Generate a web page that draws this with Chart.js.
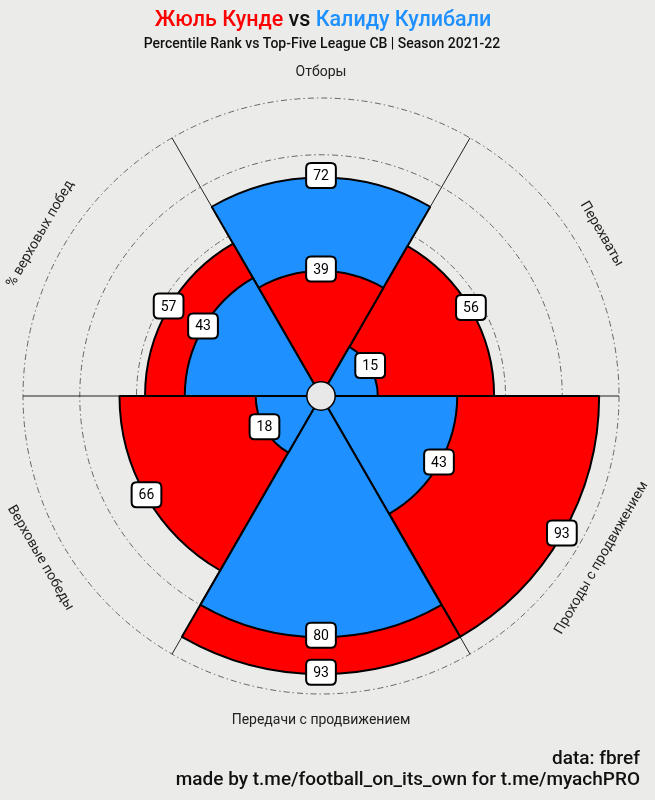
<!DOCTYPE html>
<html>
<head>
<meta charset="utf-8">
<script src="https://cdn.jsdelivr.net/npm/chart.js@4.4.1/dist/chart.umd.min.js"></script>
<style>
  html, body { margin: 0; padding: 0; background: #ebebe9; }
  #wrap { width: 655px; height: 800px; position: relative; }
</style>
</head>
<body>
<div id="wrap"><canvas id="pizza"></canvas></div>
<script>
// slices, clockwise from the top
const categories = [
  "Отборы",
  "Перехваты",
  "Проходы с продвижением",
  "Передачи с продвижением",
  "Верховые победы",
  "% верховых побед",
];
const kundeValues = [39, 56, 93, 93, 66, 57];
const koulibalyValues = [72, 15, 43, 80, 18, 43];
const radialTicks = [0, 20, 40, 60, 80, 100];

const RED = "#ff0000";
const BLUE = "#1e90ff";
const BG = "#ebebe9";

// in every slice the bigger value sits behind, the smaller one in front
const backValues = kundeValues.map((v, i) => Math.max(v, koulibalyValues[i]));
const frontValues = kundeValues.map((v, i) => Math.min(v, koulibalyValues[i]));
const backColors = kundeValues.map((v, i) => (v >= koulibalyValues[i] ? RED : BLUE));
const frontColors = kundeValues.map((v, i) => (v >= koulibalyValues[i] ? BLUE : RED));

const roundBox = (ctx, x, y, w, h, rad) => {
  ctx.beginPath();
  ctx.moveTo(x + rad, y);
  ctx.lineTo(x + w - rad, y);
  ctx.quadraticCurveTo(x + w, y, x + w, y + rad);
  ctx.lineTo(x + w, y + h - rad);
  ctx.quadraticCurveTo(x + w, y + h, x + w - rad, y + h);
  ctx.lineTo(x + rad, y + h);
  ctx.quadraticCurveTo(x, y + h, x, y + h - rad);
  ctx.lineTo(x, y + rad);
  ctx.quadraticCurveTo(x, y, x + rad, y);
  ctx.closePath();
};

const pizzaDecor = {
  id: "pizzaDecor",
  beforeDraw(chart) {
    const ctx = chart.ctx;
    ctx.save();
    ctx.fillStyle = BG;
    ctx.fillRect(0, 0, chart.width, chart.height);
    ctx.restore();
  },
  afterDatasetsDraw(chart) {
    const ctx = chart.ctx;
    const r = chart.scales.r;
    const arcs = chart.getDatasetMeta(0).data;

    ctx.save();
    // centre disc
    ctx.beginPath();
    ctx.arc(r.xCenter, r.yCenter, r.getDistanceFromCenterForValue(0), 0, 2 * Math.PI);
    ctx.fillStyle = "#e8e8e8";
    ctx.fill();
    ctx.lineWidth = 1.5;
    ctx.strokeStyle = "#000";
    ctx.stroke();

    // category names, turned along the circle
    ctx.font = "14px Roboto";
    ctx.fillStyle = "#222";
    ctx.textAlign = "center";
    ctx.textBaseline = "middle";
    arcs.forEach((arc, i) => {
      const mid = (arc.startAngle + arc.endAngle) / 2;
      const dist = r.drawingArea + 26;
      let rot = mid + Math.PI / 2;
      while (rot > Math.PI / 2 + 1e-6) rot -= Math.PI;
      while (rot <= -Math.PI / 2 + 1e-6) rot += Math.PI;
      ctx.save();
      ctx.translate(r.xCenter + Math.cos(mid) * dist, r.yCenter + Math.sin(mid) * dist);
      ctx.rotate(rot);
      ctx.fillText(categories[i], 0, 0);
      ctx.restore();
    });

    // value boxes
    ctx.font = "14px Roboto";
    [kundeValues, koulibalyValues].forEach((vals) => {
      vals.forEach((v, i) => {
        const arc = arcs[i];
        const mid = (arc.startAngle + arc.endAngle) / 2;
        const d = r.getDistanceFromCenterForValue(v);
        const x = r.xCenter + Math.cos(mid) * d;
        const y = r.yCenter + Math.sin(mid) * d - 2;
        const txt = String(v);
        const w = ctx.measureText(txt).width + 14;
        const h = 25;
        roundBox(ctx, x - w / 2, y - h / 2, w, h, 5);
        ctx.fillStyle = "#fff";
        ctx.fill();
        ctx.lineWidth = 2;
        ctx.strokeStyle = "#000";
        ctx.stroke();
        ctx.fillStyle = "#000";
        ctx.fillText(txt, x, y + 1);
      });
    });
    ctx.restore();
  },
  afterDraw(chart) {
    const ctx = chart.ctx;
    ctx.save();
    ctx.textBaseline = "alphabetic";

    // title in the players' colours
    ctx.font = "500 21.5px Roboto";
    const parts = [["Жюль Кунде", RED], [" vs ", "#111"], ["Калиду Кулибали", BLUE]];
    const total = parts.reduce((s, p) => s + ctx.measureText(p[0]).width, 0);
    let x = 323 - total / 2;
    ctx.textAlign = "left";
    parts.forEach(([t, c]) => {
      ctx.fillStyle = c;
      ctx.fillText(t, x, 26);
      x += ctx.measureText(t).width;
    });

    ctx.textAlign = "center";
    ctx.fillStyle = "#111";
    ctx.font = "500 14px Roboto";
    ctx.fillText("Percentile Rank vs Top-Five League CB | Season 2021-22", 322, 48);

    ctx.textAlign = "right";
    ctx.font = "500 19px Roboto";
    ctx.fillText("data: fbref", 640, 764);
    ctx.fillText("made by t.me/football_on_its_own for t.me/myachPRO", 640, 785);
    ctx.restore();
  },
};

new Chart(document.getElementById("pizza"), {
  type: "polarArea",
  data: {
    labels: categories,
    datasets: [
      {
        label: "front",
        data: frontValues,
        backgroundColor: frontColors,
        borderColor: "#000",
        borderWidth: 2,
      },
      {
        label: "back",
        data: backValues,
        backgroundColor: backColors,
        borderColor: "#000",
        borderWidth: 2,
      },
    ],
  },
  options: {
    responsive: true,
    maintainAspectRatio: false,
    animation: false,
    events: [],
    layout: { padding: { left: 23, top: 98, right: 36, bottom: 106 } },
    plugins: { legend: { display: false }, tooltip: { enabled: false } },
    scales: {
      r: {
        min: -5,
        max: 100,
        startAngle: -30,
        afterBuildTicks: (s) => {
          s.ticks = radialTicks.map((v) => ({ value: v }));
        },
        ticks: { display: false },
        pointLabels: { display: false },
        grid: { circular: true, color: "#666", lineWidth: 1 },
        border: { dash: [6, 3, 1.5, 3] },
        angleLines: { display: true, color: "#222", lineWidth: 1 },
      },
    },
  },
  plugins: [pizzaDecor],
});
</script>
</body>
</html>
